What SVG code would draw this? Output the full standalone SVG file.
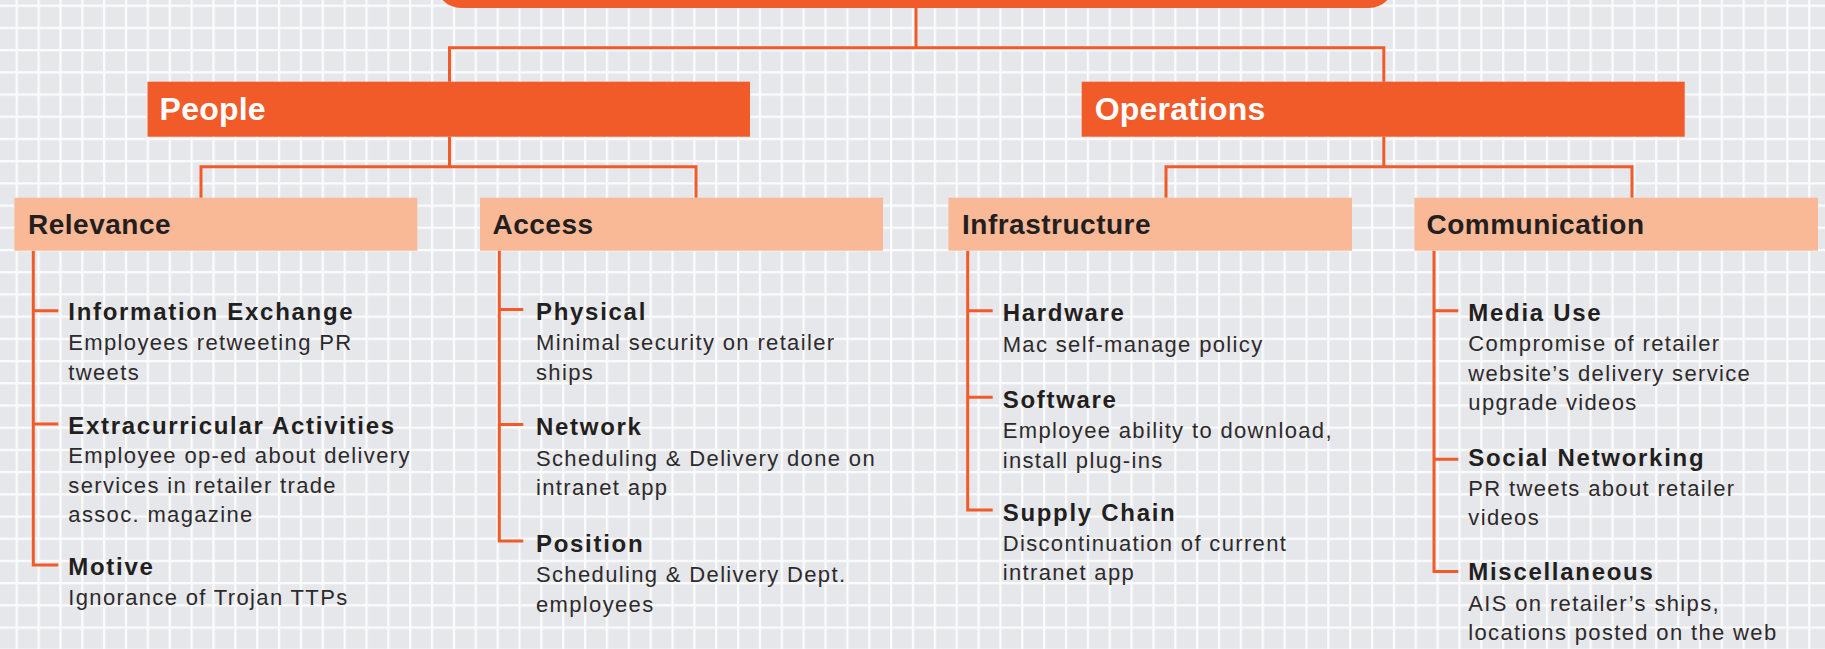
<svg xmlns="http://www.w3.org/2000/svg" width="1825" height="649" viewBox="0 0 1825 649">
  <style>
    .bg { fill: #e6e7eb; }
    .gl { fill: #fbfbfb; }
    .dark { fill: #f15a29; }
    .light { fill: #f9b996; }
    .conn { fill: none; stroke: #f15a29; stroke-width: 3; stroke-linejoin: miter; }
    .h1 { font-family: "Liberation Sans", Arial, sans-serif; font-weight: bold; font-size: 32px; fill: #ffffff; letter-spacing: 0.2px; }
    .h2 { font-family: "Liberation Sans", Arial, sans-serif; font-weight: bold; font-size: 28px; fill: #231f20; letter-spacing: 0.5px; }
    .t { font-family: "Liberation Sans", Arial, sans-serif; font-weight: bold; font-size: 24px; fill: #231f20; letter-spacing: 1.7px; }
    .d { font-family: "Liberation Sans", Arial, sans-serif; font-size: 22px; fill: #2d2a2b; letter-spacing: 1.35px; }
  </style>
  <defs>
    <pattern id="grid" patternUnits="userSpaceOnUse" x="15.6" y="4.6" width="21.86" height="22.21">
      <rect class="bg" x="0" y="0" width="21.86" height="22.21"/>
      <rect class="gl" x="0" y="0" width="2.3" height="22.21"/>
      <rect class="gl" x="0" y="0" width="21.86" height="2.3"/>
    </pattern>
  </defs>
  <rect x="0" y="0" width="1825" height="649" fill="url(#grid)"/>

  <g id="connectors">
    <path class="conn" d="M916,8 V47.7"/>
    <path class="conn" d="M449.5,81.7 V47.7 H1383.8 V81.7"/>
    <path class="conn" d="M449.5,136.7 V166.7"/>
    <path class="conn" d="M201,197.7 V166.7 H696 V197.7"/>
    <path class="conn" d="M1383.8,136.7 V166.7"/>
    <path class="conn" d="M1166,197.7 V166.7 H1632 V197.7"/>
    <path class="conn" d="M33.3,250.7 V565 H58.3 M33.3,310.7 H58.3 M33.3,424 H58.3"/>
    <path class="conn" d="M499.3,250.7 V541 H523.3 M499.3,309.5 H523.3 M499.3,424.5 H523.3"/>
    <path class="conn" d="M967.7,250.7 V510 H992.7 M967.7,310.7 H992.7 M967.7,397.3 H992.7"/>
    <path class="conn" d="M1434,250.7 V571.5 H1458.3 M1434,310.7 H1458.3 M1434,459.3 H1458.3"/>
  </g>

  <g id="root">
    <rect class="dark" x="436" y="-60" width="958" height="68" rx="25" ry="25"/>
  </g>

  <g id="people">
    <rect class="dark" x="147.5" y="81.7" width="602.5" height="55"/>
    <text class="h1" x="159.6" y="120">People</text>
  </g>
  <g id="operations">
    <rect class="dark" x="1081.7" y="81.7" width="603" height="55"/>
    <text class="h1" x="1094.7" y="120">Operations</text>
  </g>

  <g id="relevance">
    <rect class="light" x="14.4" y="197.7" width="402.9" height="53"/>
    <text class="h2" x="28" y="233.5">Relevance</text>
  </g>
  <g id="access">
    <rect class="light" x="480" y="197.7" width="403" height="53"/>
    <text class="h2" x="492.5" y="233.5">Access</text>
  </g>
  <g id="infrastructure">
    <rect class="light" x="948.4" y="197.7" width="403.6" height="53"/>
    <text class="h2" x="962" y="233.5">Infrastructure</text>
  </g>
  <g id="communication">
    <rect class="light" x="1414.4" y="197.7" width="403.6" height="53"/>
    <text class="h2" x="1426.5" y="233.5">Communication</text>
  </g>

  <g id="information-exchange">
    <text class="t" x="68.3" y="319.5">Information Exchange</text>
    <text class="d" x="68.3" y="350">Employees retweeting PR</text>
    <text class="d" x="68.3" y="379.5">tweets</text>
  </g>
  <g id="extracurricular-activities">
    <text class="t" x="68.3" y="433.5">Extracurricular Activities</text>
    <text class="d" x="68.3" y="463">Employee op-ed about delivery</text>
    <text class="d" x="68.3" y="492.5">services in retailer trade</text>
    <text class="d" x="68.3" y="522">assoc. magazine</text>
  </g>
  <g id="motive">
    <text class="t" x="68.3" y="575">Motive</text>
    <text class="d" x="68.3" y="605">Ignorance of Trojan TTPs</text>
  </g>

  <g id="physical">
    <text class="t" x="536" y="320">Physical</text>
    <text class="d" x="536" y="350">Minimal security on retailer</text>
    <text class="d" x="536" y="379.5">ships</text>
  </g>
  <g id="network">
    <text class="t" x="536" y="435">Network</text>
    <text class="d" x="536" y="465.5">Scheduling &amp; Delivery done on</text>
    <text class="d" x="536" y="495">intranet app</text>
  </g>
  <g id="position">
    <text class="t" x="536" y="551.5">Position</text>
    <text class="d" x="536" y="582">Scheduling &amp; Delivery Dept.</text>
    <text class="d" x="536" y="611.5">employees</text>
  </g>

  <g id="hardware">
    <text class="t" x="1002.7" y="321">Hardware</text>
    <text class="d" x="1002.7" y="351.5">Mac self-manage policy</text>
  </g>
  <g id="software">
    <text class="t" x="1002.7" y="408">Software</text>
    <text class="d" x="1002.7" y="438.3">Employee ability to download,</text>
    <text class="d" x="1002.7" y="467.8">install plug-ins</text>
  </g>
  <g id="supply-chain">
    <text class="t" x="1002.7" y="520.5">Supply Chain</text>
    <text class="d" x="1002.7" y="550.7">Discontinuation of current</text>
    <text class="d" x="1002.7" y="580">intranet app</text>
  </g>

  <g id="media-use">
    <text class="t" x="1468.3" y="320.5">Media Use</text>
    <text class="d" x="1468.3" y="351">Compromise of retailer</text>
    <text class="d" x="1468.3" y="380.5">website’s delivery service</text>
    <text class="d" x="1468.3" y="410">upgrade videos</text>
  </g>
  <g id="social-networking">
    <text class="t" x="1468.3" y="466">Social Networking</text>
    <text class="d" x="1468.3" y="495.5">PR tweets about retailer</text>
    <text class="d" x="1468.3" y="525">videos</text>
  </g>
  <g id="miscellaneous">
    <text class="t" x="1468.3" y="580">Miscellaneous</text>
    <text class="d" x="1468.3" y="610.5">AIS on retailer’s ships,</text>
    <text class="d" x="1468.3" y="640">locations posted on the web</text>
  </g>
</svg>
